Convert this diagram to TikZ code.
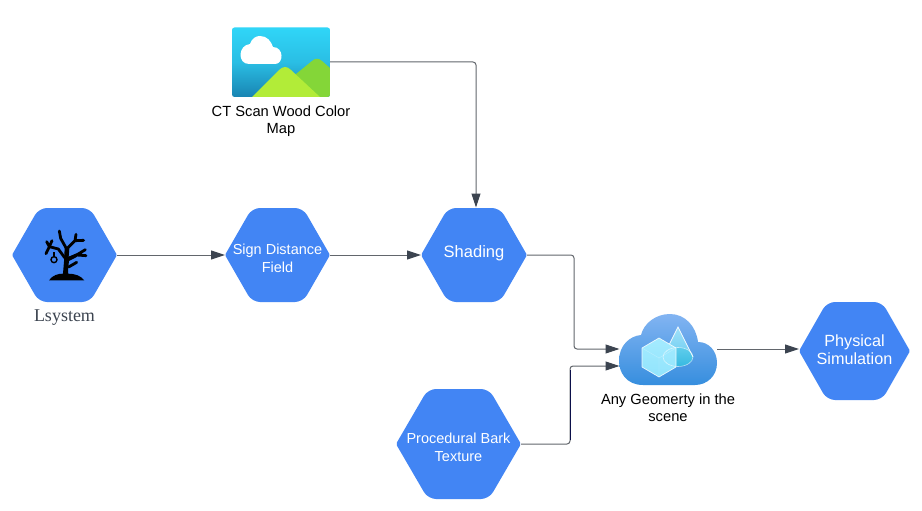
\documentclass[tikz,border=0pt]{standalone}
\usepackage{fontspec}
\setmainfont{Liberation Sans}
\newfontfamily\serifface{Liberation Serif}
\usetikzlibrary{arrows.meta,calc,positioning}
\definecolor{hexblue}{HTML}{4285F4}
\definecolor{linegray}{HTML}{62666C}
\definecolor{tipgray}{HTML}{3C4450}
\definecolor{navyline}{HTML}{0B0F4A}
\definecolor{skytop}{RGB}{48,214,248}
\definecolor{skymid}{RGB}{42,190,228}
\definecolor{skybot}{RGB}{25,132,178}
\definecolor{hillback}{RGB}{132,214,56}
\definecolor{hillfront}{RGB}{178,236,56}
\definecolor{cloudtop}{RGB}{130,180,242}
\definecolor{cloudbot}{RGB}{54,142,222}
\definecolor{conetop}{RGB}{160,225,250}
\definecolor{conebot}{RGB}{110,205,240}
\definecolor{basetop}{RGB}{95,205,235}
\definecolor{basebot}{RGB}{55,185,225}
\definecolor{cubetop}{RGB}{165,235,255}
\definecolor{cubebot}{RGB}{145,228,252}
\tikzset{
  conn/.style={draw=linegray,line width=1pt,rounded corners=3pt,-{Triangle[length=14pt,width=9pt,color=tipgray]}},
  hexlabel/.style={text=white,align=center,font=\fontsize{14.5}{17.5}\selectfont,inner sep=0pt,outer sep=0pt},
  hexbox/.style={fill=hexblue,inner sep=0pt,outer sep=0pt},
  iconlabel/.style={text=black,align=center,font=\fontsize{14.7}{17.5}\selectfont,inner sep=0pt},
  iconbox/.style={inner sep=0pt,outer sep=0pt,minimum width=98pt}
}
% name, centre x, centre y, width, height, slant, text, text offset
\newcommand{\hexshape}[8]{%
  \path[fill=hexblue,rounded corners=1.5pt] (#2-#4/2,#3) [rounded corners=8pt] -- (#2-#4/2+#6,#3-#5/2) -- (#2+#4/2-#6,#3-#5/2) [rounded corners=1.5pt] -- (#2+#4/2,#3) [rounded corners=8pt] -- (#2+#4/2-#6,#3+#5/2) -- (#2-#4/2+#6,#3+#5/2) [rounded corners=1.5pt] -- cycle;
  \node[inner sep=0pt,outer sep=0pt,minimum width=#4*1pt,minimum height=#5*1pt] (#1) at (#2,#3) {};
  \node[hexlabel] (#1text) at (#2,#3+#8) {#7};
}
\begin{document}
\begin{tikzpicture}[x=1pt,y=-1pt]
\useasboundingbox (0,0) rectangle (922,511);
\fill[white] (0,0) rectangle (922,511);

% hexagons
\hexshape{lsys}{64.5}{255}{105}{94}{27}{}{0}
\hexshape{sdf}{277.5}{255}{105}{94}{27}{Sign Distance\\Field}{3.5}
\hexshape{shade}{474}{255}{106}{94}{27}{\fontsize{16.5}{19}\selectfont Shading}{-2}
\hexshape{phys}{854.5}{351}{111}{98}{28}{\fontsize{16.2}{19}\selectfont Physical\\\fontsize{16.2}{19}\selectfont Simulation}{-1.5}
\hexshape{bark}{458.5}{444}{125}{110}{32}{Procedural Bark\\Texture}{3.5}

% Lsystem label
\node[inner sep=0pt,text=tipgray,font=\serifface\fontsize{18}{20}\selectfont] (lsyslabel) at (64.5,318) {Lsystem};

% tree icon
\begin{scope}[shift={(40,225)},scale=1/3]
  \fill[black] (27,166) .. controls (38,150) and (55,146) .. (69,146)
     -- (72,110) -- (74,70) -- (88,70) -- (86,95) -- (110,85) -- (112,95) -- (87,108) -- (85,125) -- (84,146)
     .. controls (105,146) and (122,152) .. (133,166) -- cycle;
  \draw[black,line width=2.8pt,line cap=round,line join=round]
     (58,18) -- (62,40) -- (80,72) -- (105,47) -- (108,28)
     (105,47) -- (131,46)
     (74,98) -- (55,72) -- (28,65) -- (20,50)
     (28,65) -- (18,86)
     (28,65) -- (36,47)
     (88,100) -- (110,90) -- (136,74)
     (110,90) -- (138,92)
     (86,126) -- (110,112);
  \draw[black,line width=1.2pt] (42,82) -- (42,95);
  \draw[black,line width=1.4pt] (42,104) circle (9);
\end{scope}

% image icon
\node[iconbox,minimum height=70pt] (mapicon) at (281,62) {};
\begin{scope}
  \path[clip,rounded corners=2.5pt] (232,27.5) rectangle (330,97);
  \path[bottom color=skybot,top color=skytop,middle color=skymid] (232,27) rectangle (330,97);
  \fill[white] (249,64) .. controls (237,64) and (238,45) .. (250,44)
     .. controls (252,38) and (256,36) .. (260,36)
     .. controls (267,36) and (271,41) .. (273,47)
     .. controls (284,47) and (284,64) .. (275,64) -- cycle;
  \fill[hillback] (296,97) -- (296,74) -- (312,61) .. controls (315,58) and (319,58) .. (322,61) -- (330,68) -- (330,97) -- cycle;
  \fill[hillfront] (252,97) -- (279,70) .. controls (283,66) and (287,66) .. (291,70) -- (320,97) -- cycle;
\end{scope}
\node[iconlabel,anchor=north] (maplabel) at (281,105.5) {CT Scan Wood Color\\Map};

% cloud icon
\node[iconbox,minimum height=71pt] (cloud) at (668,349.5) {};
\path[top color=cloudtop,bottom color=cloudbot]
  (643,385) .. controls (626,385) and (619,372) .. (619,361)
  .. controls (619,345) and (630,336) .. (641,335)
  .. controls (644,323) and (656,314) .. (670,314)
  .. controls (685,314) and (696,326) .. (698,342)
  .. controls (709,342) and (717,351) .. (717,363)
  .. controls (717,376) and (707,385) .. (695,385) -- cycle;
% cone
\path[top color=conetop,bottom color=conebot]
  (663,357) -- (678,327) -- (693,357) -- cycle;
\path[top color=basetop,bottom color=basebot] (678,357) ellipse (15 and 9.5);
\draw[white,opacity=0.9,line width=0.7pt] (663,357) -- (678,327) -- (693,357);
% cube
\path[top color=cubetop,bottom color=cubebot]
  (659,338) -- (676,348) -- (676,367) -- (659,377) -- (642,367) -- (642,348) -- cycle;
\draw[white,opacity=0.85,line width=0.7pt,line join=round] (659,338) -- (676,348) -- (676,367) -- (659,377) -- (642,367) -- (642,348) -- cycle;
\draw[white,opacity=0.3,line width=0.4pt] (642,348) -- (659,358) -- (676,348) (659,358) -- (659,377);
\draw[white,opacity=0.6,line width=0.6pt] (678,357) ellipse (15 and 9.5);
\node[iconlabel,anchor=north] (cloudlabel) at (668,393.5) {Any Geomerty in the\\scene};

% connector free ends
\coordinate (shadein) at (476,207.5);
\coordinate (cloudinA) at (619.5,349);
\coordinate (cloudinB) at (619.5,366);
\coordinate (cloudout) at (717,349);
\coordinate (physin) at (799,349);
\coordinate (bendA) at (574,255);
\coordinate (bendB) at (570,444);

% connectors
\draw[conn] (mapicon.east) -| (shadein);
\draw[conn] (lsys.east) -- (sdf.west);
\draw[conn] (sdf.east) -- (shade.west);
\draw[conn] (shade.east) -- (bendA) |- (cloudinA);
\draw[conn] (bark.east) -- (bendB) |- (cloudinB);
\draw[navyline,line width=1pt] (570,440) -- (570,370);
\draw[conn] (cloudout) -- (physin);
\end{tikzpicture}
\end{document}
